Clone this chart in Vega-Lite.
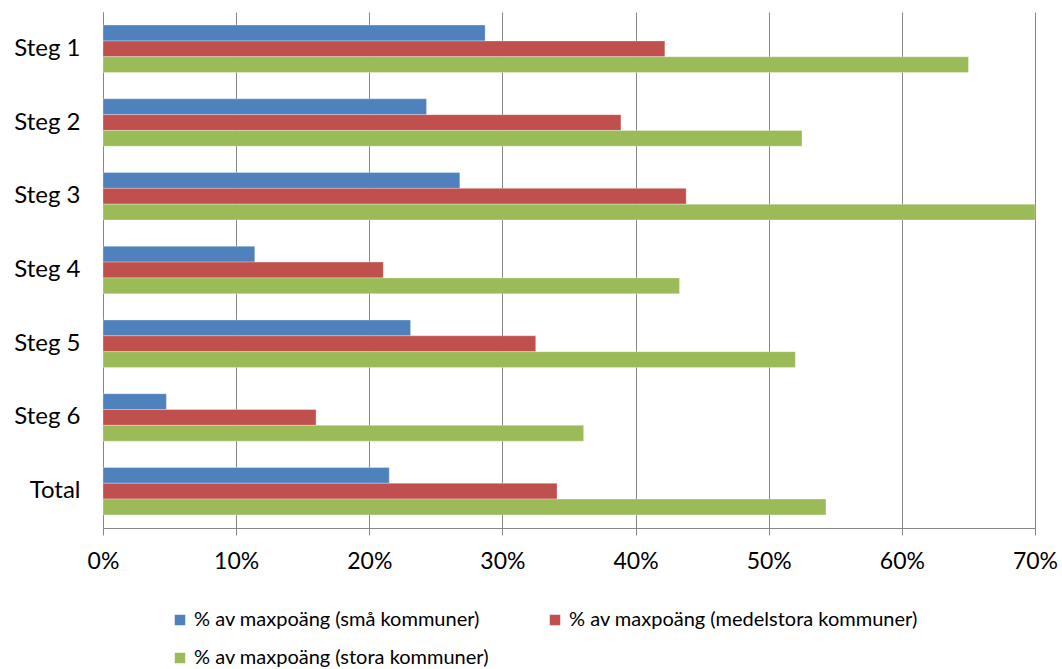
{
  "$schema": "https://vega.github.io/schema/vega-lite/v6.json",
  "width": 932,
  "height": 516,
  "autosize": {"type": "none"},
  "padding": {"left": 103, "top": 12, "right": 27, "bottom": 141},
  "background": "white",
  "data": {
    "values": [
      {"steg": "Steg 1", "serie": "% av maxpoäng (små kommuner)", "value": 0.287},
      {"steg": "Steg 1", "serie": "% av maxpoäng (medelstora kommuner)", "value": 0.422},
      {"steg": "Steg 1", "serie": "% av maxpoäng (stora kommuner)", "value": 0.650},
      {"steg": "Steg 2", "serie": "% av maxpoäng (små kommuner)", "value": 0.243},
      {"steg": "Steg 2", "serie": "% av maxpoäng (medelstora kommuner)", "value": 0.389},
      {"steg": "Steg 2", "serie": "% av maxpoäng (stora kommuner)", "value": 0.525},
      {"steg": "Steg 3", "serie": "% av maxpoäng (små kommuner)", "value": 0.268},
      {"steg": "Steg 3", "serie": "% av maxpoäng (medelstora kommuner)", "value": 0.438},
      {"steg": "Steg 3", "serie": "% av maxpoäng (stora kommuner)", "value": 0.700},
      {"steg": "Steg 4", "serie": "% av maxpoäng (små kommuner)", "value": 0.114},
      {"steg": "Steg 4", "serie": "% av maxpoäng (medelstora kommuner)", "value": 0.2105},
      {"steg": "Steg 4", "serie": "% av maxpoäng (stora kommuner)", "value": 0.433},
      {"steg": "Steg 5", "serie": "% av maxpoäng (små kommuner)", "value": 0.231},
      {"steg": "Steg 5", "serie": "% av maxpoäng (medelstora kommuner)", "value": 0.325},
      {"steg": "Steg 5", "serie": "% av maxpoäng (stora kommuner)", "value": 0.520},
      {"steg": "Steg 6", "serie": "% av maxpoäng (små kommuner)", "value": 0.0476},
      {"steg": "Steg 6", "serie": "% av maxpoäng (medelstora kommuner)", "value": 0.160},
      {"steg": "Steg 6", "serie": "% av maxpoäng (stora kommuner)", "value": 0.361},
      {"steg": "Total", "serie": "% av maxpoäng (små kommuner)", "value": 0.215},
      {"steg": "Total", "serie": "% av maxpoäng (medelstora kommuner)", "value": 0.341},
      {"steg": "Total", "serie": "% av maxpoäng (stora kommuner)", "value": 0.543}
    ]
  },
  "mark": {"type": "bar", "stroke": "white", "strokeWidth": 0.5, "strokeOpacity": 0.6},
  "encoding": {
    "y": {
      "field": "steg",
      "type": "nominal",
      "sort": ["Steg 1", "Steg 2", "Steg 3", "Steg 4", "Steg 5", "Steg 6", "Total"],
      "scale": {"paddingInner": 0.357, "paddingOuter": 0.178},
      "axis": {
        "title": null,
        "labelFontSize": 24,
        "labelFont": "Lato",
        "labelColor": "#000000",
        "ticks": false,
        "labelPadding": 23,
        "domainColor": "#868686",
        "domainWidth": 1,
        "grid": false
      }
    },
    "yOffset": {
      "field": "serie",
      "type": "nominal",
      "sort": ["% av maxpoäng (små kommuner)", "% av maxpoäng (medelstora kommuner)", "% av maxpoäng (stora kommuner)"],
      "scale": {"paddingInner": 0, "paddingOuter": 0}
    },
    "x": {
      "field": "value",
      "type": "quantitative",
      "scale": {"domain": [0, 0.7], "nice": false},
      "axis": {
        "title": null,
        "format": ".0%",
        "values": [0, 0.1, 0.2, 0.3, 0.4, 0.5, 0.6, 0.7],
        "labelFontSize": 23,
        "labelFont": "Lato",
        "labelColor": "#000000",
        "labelFlush": false,
        "labelPadding": 15,
        "tickSize": 7,
        "tickColor": "#868686",
        "domainColor": "#868686",
        "grid": true,
        "gridColor": "#868686",
        "gridWidth": 1,
        "gridOpacity": 1
      }
    },
    "color": {
      "field": "serie",
      "type": "nominal",
      "sort": ["% av maxpoäng (små kommuner)", "% av maxpoäng (medelstora kommuner)", "% av maxpoäng (stora kommuner)"],
      "scale": {"range": ["#4F81BD", "#C0504D", "#9BBB59"]},
      "legend": {
        "title": null,
        "orient": "none",
        "direction": "horizontal",
        "legendX": 67,
        "legendY": 598,
        "columns": 2,
        "symbolType": "square",
        "symbolSize": 110,
        "symbolStrokeWidth": 0,
        "labelFontSize": 20,
        "labelFont": "Lato",
        "labelColor": "#000000",
        "labelLimit": 0,
        "labelOffset": 4,
        "columnPadding": 55,
        "rowPadding": 18
      }
    }
  },
  "config": {"view": {"stroke": null}}
}
